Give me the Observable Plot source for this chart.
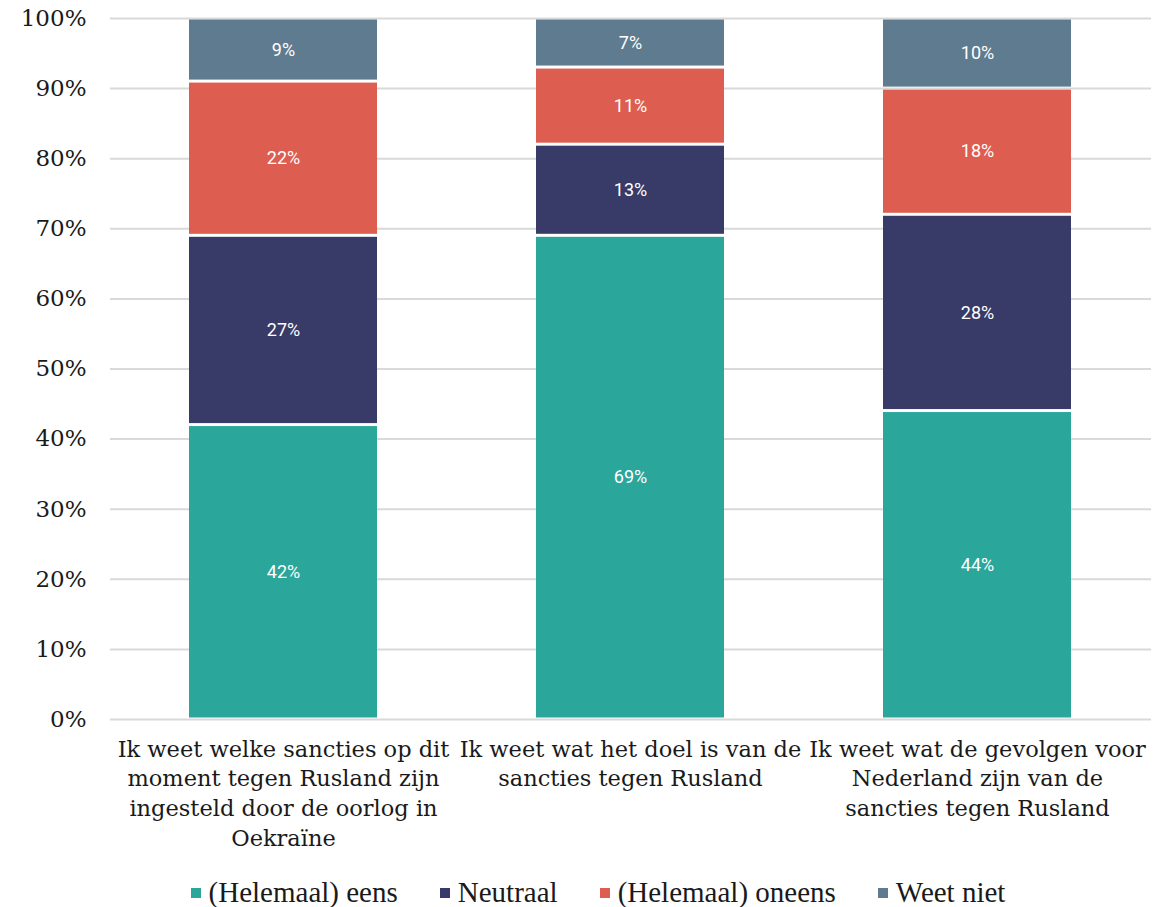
<!DOCTYPE html>
<html>
<head>
<meta charset="utf-8">
<script src="https://cdn.jsdelivr.net/npm/d3@7"></script>
<script src="https://cdn.jsdelivr.net/npm/@observablehq/plot@0.6"></script>
<style>
  body { margin: 0; background: #fff; }
  #legend { display: flex; justify-content: center; gap: 42px; font-family: "Liberation Serif", serif; font-size: 29px; color: #1a1a1a; margin-top: 8px; margin-left: 28px; line-height: 1; }
  #legend span.sw { display: inline-block; width: 10px; height: 10px; margin-right: 8px; vertical-align: middle; position: relative; top: -2px; }
</style>
</head>
<body>
<div id="chart"></div>
<div id="legend"></div>
<script>
const categories = [
  "Ik weet welke sancties op dit moment tegen Rusland zijn ingesteld door de oorlog in Oekraïne",
  "Ik weet wat het doel is van de sancties tegen Rusland",
  "Ik weet wat de gevolgen voor Nederland zijn van de sancties tegen Rusland"
];
const categoryLabels = [
  "Ik weet welke sancties op dit\nmoment tegen Rusland zijn\ningesteld door de oorlog in\nOekraïne",
  "Ik weet wat het doel is van de\nsancties tegen Rusland",
  "Ik weet wat de gevolgen voor\nNederland zijn van de\nsancties tegen Rusland"
];
const series = ["(Helemaal) eens", "Neutraal", "(Helemaal) oneens", "Weet niet"];
const colors = ["#2AA69B", "#383A67", "#DE5D51", "#5F7B8F"];
const eens = [42, 69, 44];
const neutraal = [27, 13, 28];
const oneens = [22, 11, 18];
const weetNiet = [9, 7, 10];
const yTicks = [0, 10, 20, 30, 40, 50, 60, 70, 80, 90, 100];

const seriesValues = [eens, neutraal, oneens, weetNiet];
const data = [];
series.forEach((s, si) => {
  categories.forEach((c, ci) => {
    data.push({category: c, series: s, value: seriesValues[si][ci]});
  });
});
const labelOf = new Map(categories.map((c, i) => [c, categoryLabels[i]]));

const chart = Plot.plot({
  width: 1168,
  height: 870,
  marginTop: 18,
  marginBottom: 151,
  marginLeft: 110,
  marginRight: 17,
  style: {fontFamily: "DejaVu Serif, serif", color: "#1a1a1a", background: "#fff"},
  x: {domain: categories, paddingInner: 0.458, paddingOuter: 0.229, label: null},
  y: {domain: [0, 100], label: null},
  color: {domain: series, range: colors},
  marks: [
    Plot.ruleY(yTicks, {stroke: "#d9d9d9", strokeWidth: 2}),
    Plot.barY(data, Plot.stackY({x: "category", y: "value", fill: "series", insetTop: 1.5, insetBottom: 1.5})),
    Plot.text(data, Plot.stackY({x: "category", y: "value", z: "series", text: d => d.value + "%", fill: "white", fontFamily: "Roboto, sans-serif", fontSize: 18, fontWeight: 400})),
    Plot.axisY({ticks: yTicks, tickFormat: d => d + "%", tickSize: 0, tickPadding: 24, fontSize: 23, label: null}),
    Plot.axisX({tickSize: 0, tickPadding: 16, fontSize: 22.5, lineHeight: 1.32, tickFormat: d => labelOf.get(d), label: null, textAnchor: "middle"})
  ]
});
document.getElementById("chart").appendChild(chart);

const legend = document.getElementById("legend");
series.forEach((s, i) => {
  const item = document.createElement("div");
  const sw = document.createElement("span");
  sw.className = "sw";
  sw.style.background = colors[i];
  item.appendChild(sw);
  item.appendChild(document.createTextNode(s));
  legend.appendChild(item);
});
</script>
</body>
</html>
